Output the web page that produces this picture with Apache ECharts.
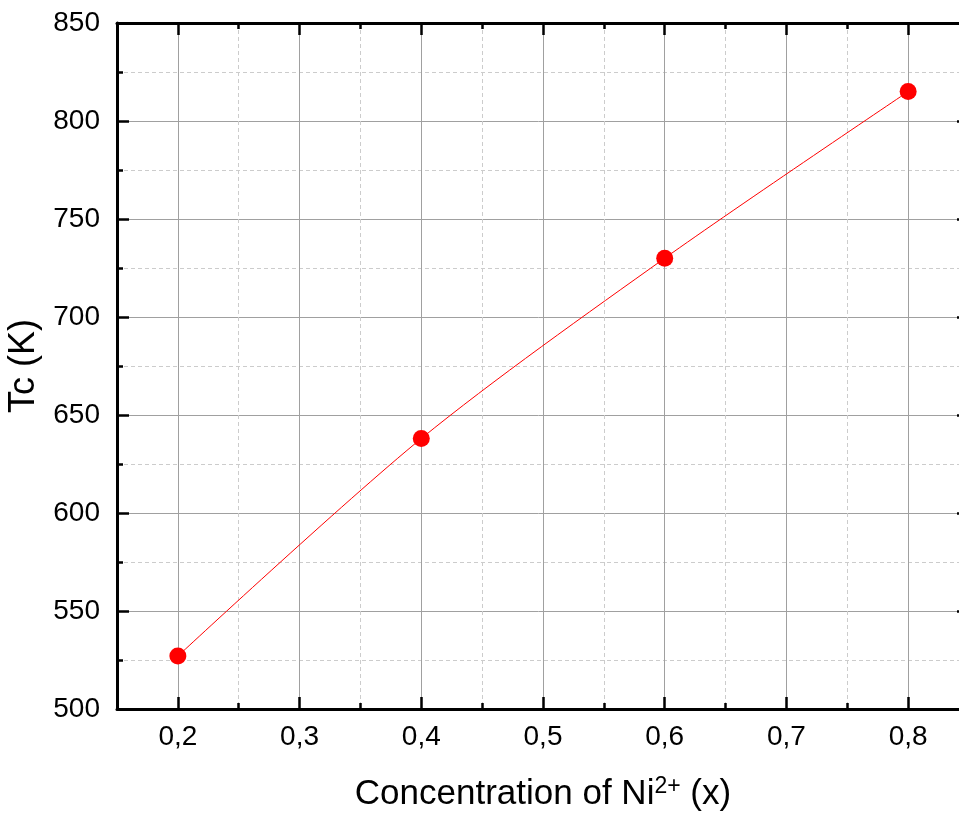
<!DOCTYPE html>
<html>
<head>
<meta charset="utf-8">
<script src="https://cdn.jsdelivr.net/npm/echarts@6/dist/echarts.min.js"></script>
<style>
html,body{margin:0;padding:0;background:#fff;}
#chart{width:959px;height:814px;}
</style>
</head>
<body>
<div id="chart"></div>
<script>
const xValues = [0.2, 0.4, 0.6, 0.8];
const tcValues = [527, 638, 730, 815];
const xMajorTicks = [0.2, 0.3, 0.4, 0.5, 0.6, 0.7, 0.8];
const xMinorTicks = [0.25, 0.35, 0.45, 0.55, 0.65, 0.75];
const xTitle = 'Concentration of Ni';
const yTitle = 'Tc (K)';

const FONT = 'Liberation Sans, Arial, sans-serif';
const X_MIN = 0.15, X_MAX = 0.85;
const chart = echarts.init(document.getElementById('chart'));

function xAxisDef(pos, ticks, len, major, labels) {
  return {
    type: 'value', position: pos, min: X_MIN, max: X_MAX,
    axisLine: { show: major, onZero: false, lineStyle: { color: '#000', width: 3 } },
    axisTick: { show: true, inside: true, length: len, customValues: ticks, lineStyle: { color: '#000', width: 2.5 } },
    axisLabel: labels ? {
      show: true, customValues: ticks, margin: 14, color: '#000', fontSize: 28, fontFamily: FONT,
      formatter: v => String(Math.round(v * 10) / 10).replace('.', ',')
    } : { show: false },
    splitLine: (pos === 'bottom') ? {
      show: true,
      lineStyle: major ? { color: '#a0a0a0', width: 1, type: 'solid' } : { color: '#cccccc', width: 1, type: [4, 3] }
    } : { show: false }
  };
}

const xAxes = [
  Object.assign(xAxisDef('bottom', xMajorTicks, 12, true, true), {
    name: '{a|' + xTitle + '}{sup|2+}{a| (x)}',
    nameLocation: 'middle', nameGap: 66,
    nameTextStyle: {
      rich: {
        a: { fontSize: 35, fontFamily: FONT, color: '#000' },
        sup: { fontSize: 23, fontFamily: FONT, color: '#000', verticalAlign: 'top', padding: [0, 0, 16, 0] }
      }
    }
  }),
  xAxisDef('bottom', xMinorTicks, 6, false, false),
  xAxisDef('top', xMajorTicks, 12, true, false),
  xAxisDef('top', xMinorTicks, 6, false, false)
];

function yAxisDef(pos, main) {
  return {
    type: 'value', position: pos, min: 500, max: 850, interval: 50,
    axisLine: { show: true, onZero: false, lineStyle: { color: '#000', width: 3 } },
    axisTick: { show: true, inside: true, length: 12, lineStyle: { color: '#000', width: 2.5 } },
    minorTick: { show: true, splitNumber: 2, length: 6, lineStyle: { color: '#000', width: 2.5 } },
    axisLabel: main ? { show: true, margin: 17, color: '#000', fontSize: 28, fontFamily: FONT } : { show: false },
    splitLine: { show: main, lineStyle: { color: '#a0a0a0', width: 1 } },
    minorSplitLine: { show: main, lineStyle: { color: '#cccccc', width: 1, type: [4, 3] } }
  };
}

const yAxes = [
  Object.assign(yAxisDef('left', true), {
    name: yTitle, nameLocation: 'middle', nameGap: 66, nameRotate: 90,
    nameTextStyle: { fontSize: 36, fontFamily: FONT, color: '#000' }
  }),
  yAxisDef('right', false)
];

chart.setOption({
  animation: false,
  backgroundColor: '#fff',
  grid: { left: 117, top: 23, width: 852, height: 686, containLabel: false, outerBoundsMode: 'none' },
  xAxis: xAxes,
  yAxis: yAxes,
  series: [{
    type: 'line',
    xAxisIndex: 0, yAxisIndex: 0,
    data: xValues.map((x, i) => [x, tcValues[i]]),
    smooth: 0.3,
    symbol: 'circle', symbolSize: 17,
    itemStyle: { color: '#ff0000' },
    lineStyle: { color: '#ff0000', width: 1 },
    z: 10
  }]
});
</script>
</body>
</html>
